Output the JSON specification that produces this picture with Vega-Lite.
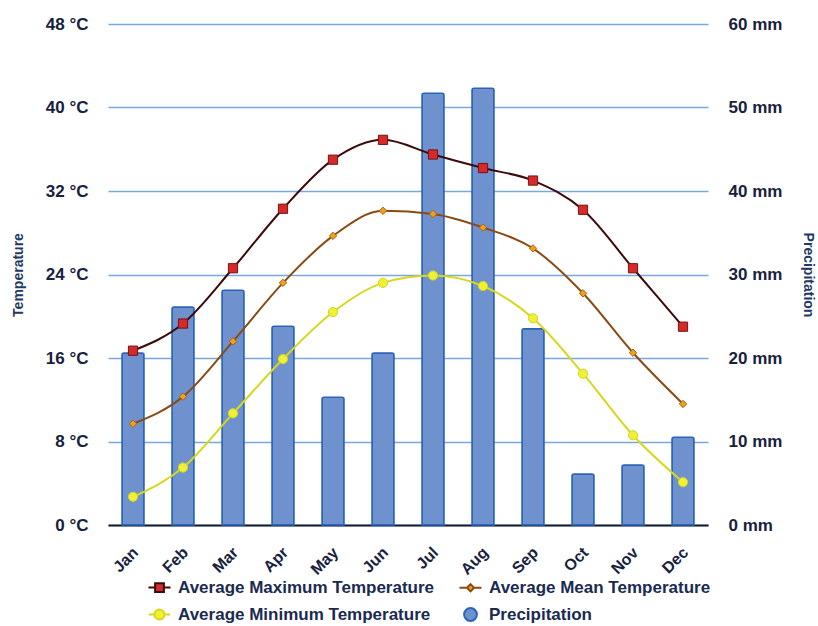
{
  "$schema": "https://vega.github.io/schema/vega-lite/v6.json",
  "width": 600,
  "height": 501,
  "autosize": {"type": "none"},
  "padding": {"left": 108, "top": 24, "right": 110, "bottom": 101},
  "background": "white",
  "config": {
    "view": {"stroke": null},
    "font": "Liberation Sans",
    "axis": {"labelFont": "Liberation Sans", "titleFont": "Liberation Sans"},
    "legend": {
      "title": null, "orient": "none", "legendX": 43, "legendY": 555, "columns": 2, "direction": "horizontal",
      "columnPadding": 20, "rowPadding": 8, "labelFontSize": 17, "labelFontWeight": "bold",
      "labelColor": "#1a2a50", "labelLimit": 400, "labelOffset": 10, "symbolSize": 64,
      "symbolStrokeWidth": 2, "symbolOpacity": 1
    }
  },
  "datasets": {
    "temps": [
      {"month": "Jan", "series": "Average Maximum Temperature", "temp": 16.7},
      {"month": "Feb", "series": "Average Maximum Temperature", "temp": 19.3},
      {"month": "Mar", "series": "Average Maximum Temperature", "temp": 24.6},
      {"month": "Apr", "series": "Average Maximum Temperature", "temp": 30.3},
      {"month": "May", "series": "Average Maximum Temperature", "temp": 35.0},
      {"month": "Jun", "series": "Average Maximum Temperature", "temp": 36.9},
      {"month": "Jul", "series": "Average Maximum Temperature", "temp": 35.5},
      {"month": "Aug", "series": "Average Maximum Temperature", "temp": 34.2},
      {"month": "Sep", "series": "Average Maximum Temperature", "temp": 33.0},
      {"month": "Oct", "series": "Average Maximum Temperature", "temp": 30.2},
      {"month": "Nov", "series": "Average Maximum Temperature", "temp": 24.6},
      {"month": "Dec", "series": "Average Maximum Temperature", "temp": 19.0},
      {"month": "Jan", "series": "Average Mean Temperature", "temp": 9.7},
      {"month": "Feb", "series": "Average Mean Temperature", "temp": 12.3},
      {"month": "Mar", "series": "Average Mean Temperature", "temp": 17.6},
      {"month": "Apr", "series": "Average Mean Temperature", "temp": 23.2},
      {"month": "May", "series": "Average Mean Temperature", "temp": 27.7},
      {"month": "Jun", "series": "Average Mean Temperature", "temp": 30.1},
      {"month": "Jul", "series": "Average Mean Temperature", "temp": 29.8},
      {"month": "Aug", "series": "Average Mean Temperature", "temp": 28.5},
      {"month": "Sep", "series": "Average Mean Temperature", "temp": 26.5},
      {"month": "Oct", "series": "Average Mean Temperature", "temp": 22.2},
      {"month": "Nov", "series": "Average Mean Temperature", "temp": 16.5},
      {"month": "Dec", "series": "Average Mean Temperature", "temp": 11.6},
      {"month": "Jan", "series": "Average Minimum Temperature", "temp": 2.7},
      {"month": "Feb", "series": "Average Minimum Temperature", "temp": 5.5},
      {"month": "Mar", "series": "Average Minimum Temperature", "temp": 10.7},
      {"month": "Apr", "series": "Average Minimum Temperature", "temp": 15.9},
      {"month": "May", "series": "Average Minimum Temperature", "temp": 20.4},
      {"month": "Jun", "series": "Average Minimum Temperature", "temp": 23.2},
      {"month": "Jul", "series": "Average Minimum Temperature", "temp": 23.9},
      {"month": "Aug", "series": "Average Minimum Temperature", "temp": 22.9},
      {"month": "Sep", "series": "Average Minimum Temperature", "temp": 19.8},
      {"month": "Oct", "series": "Average Minimum Temperature", "temp": 14.5},
      {"month": "Nov", "series": "Average Minimum Temperature", "temp": 8.6},
      {"month": "Dec", "series": "Average Minimum Temperature", "temp": 4.1}
    ],
    "precip": [
      {"month": "Jan", "series": "Precipitation", "precip": 20.6},
      {"month": "Feb", "series": "Precipitation", "precip": 26.1},
      {"month": "Mar", "series": "Precipitation", "precip": 28.1},
      {"month": "Apr", "series": "Precipitation", "precip": 23.8},
      {"month": "May", "series": "Precipitation", "precip": 15.3},
      {"month": "Jun", "series": "Precipitation", "precip": 20.6},
      {"month": "Jul", "series": "Precipitation", "precip": 51.7},
      {"month": "Aug", "series": "Precipitation", "precip": 52.3},
      {"month": "Sep", "series": "Precipitation", "precip": 23.5},
      {"month": "Oct", "series": "Precipitation", "precip": 6.1},
      {"month": "Nov", "series": "Precipitation", "precip": 7.2},
      {"month": "Dec", "series": "Precipitation", "precip": 10.5}
    ]
  },
  "layer": [
    {
      "data": {"name": "precip"},
      "mark": {"type": "bar", "stroke": "#2a64b8", "strokeWidth": 1.5, "opacity": 1, "cornerRadiusTopLeft": 2, "cornerRadiusTopRight": 2},
      "encoding": {
        "x": {
          "field": "month", "type": "ordinal",
          "scale": {"domain": ["Jan","Feb","Mar","Apr","May","Jun","Jul","Aug","Sep","Oct","Nov","Dec"], "paddingInner": 0.56, "paddingOuter": 0.28},
          "axis": {
            "title": null, "ticks": false, "domainColor": "#141c30", "domainWidth": 2,
            "labelAngle": -45, "labelFontSize": 16, "labelFontWeight": "bold", "labelColor": "#18213d",
            "labelPadding": 19, "labelOffset": -3, "grid": false
          }
        },
        "y": {
          "field": "precip", "type": "quantitative",
          "scale": {"domain": [0, 60], "nice": false},
          "axis": {
            "orient": "right", "title": "Precipitation", "values": [0,10,20,30,40,50,60],
            "labelExpr": "datum.value + ' mm'", "grid": false, "domain": false, "ticks": false,
            "labelFontSize": 17, "labelFontWeight": "bold", "labelColor": "#18213d", "labelPadding": 20,
            "titleFontSize": 14, "titleFontWeight": "bold", "titleColor": "#1f3864", "titlePadding": 19
          }
        },
        "color": {
          "field": "series", "type": "nominal",
          "scale": {
            "domain": ["Average Maximum Temperature", "Average Mean Temperature", "Average Minimum Temperature", "Precipitation"],
            "range": ["#d42a2a", "#f0a020", "#f2f030", "#6f92cf"]
          }
        }
      }
    },
    {
      "data": {"name": "temps"},
      "layer": [
        {
          "mark": {"type": "line", "interpolate": "monotone", "strokeWidth": 2, "opacity": 1},
          "encoding": {
            "x": {"field": "month", "type": "ordinal"},
            "y": {
              "field": "temp", "type": "quantitative",
              "scale": {"domain": [0, 48], "nice": false},
              "axis": {
                "orient": "left", "title": "Temperature", "values": [0,8,16,24,32,40,48],
                "labelExpr": "datum.value + ' °C'", "grid": true, "gridColor": "#7aa8dc", "gridWidth": 1.5,
                "domain": false, "ticks": false,
                "labelFontSize": 17, "labelFontWeight": "bold", "labelColor": "#18213d", "labelPadding": 20,
                "titleFontSize": 14, "titleFontWeight": "bold", "titleColor": "#1f3864", "titlePadding": 20
              }
            },
            "stroke": {
              "field": "series", "type": "nominal",
              "scale": {
                "domain": ["Average Maximum Temperature", "Average Mean Temperature", "Average Minimum Temperature", "Precipitation"],
                "range": ["#3c0a0a", "#8a4b12", "#d6d81c", "#2a64b8"]
              }
            }
          }
        },
        {
          "transform": [{"filter": "datum.series === 'Average Maximum Temperature'"}],
          "mark": {"type": "point", "shape": "square", "size": 85, "filled": true, "fill": "#d42a2a", "stroke": "#7a1010", "strokeWidth": 1, "opacity": 1},
          "encoding": {
            "x": {"field": "month", "type": "ordinal"},
            "y": {"field": "temp", "type": "quantitative"}
          }
        },
        {
          "transform": [{"filter": "datum.series === 'Average Mean Temperature'"}],
          "mark": {"type": "point", "shape": "diamond", "size": 55, "filled": true, "fill": "#f0a020", "stroke": "#a86410", "strokeWidth": 1, "opacity": 1},
          "encoding": {
            "x": {"field": "month", "type": "ordinal"},
            "y": {"field": "temp", "type": "quantitative"}
          }
        },
        {
          "transform": [{"filter": "datum.series === 'Average Minimum Temperature'"}],
          "mark": {"type": "point", "shape": "circle", "size": 85, "filled": true, "fill": "#f2f030", "stroke": "#c8d830", "strokeWidth": 1, "opacity": 1},
          "encoding": {
            "x": {"field": "month", "type": "ordinal"},
            "y": {"field": "temp", "type": "quantitative"}
          }
        },
        {
          "transform": [{"filter": "false"}],
          "mark": {"type": "point", "filled": true, "opacity": 1},
          "encoding": {
            "x": {"field": "month", "type": "ordinal"},
            "y": {"field": "temp", "type": "quantitative"},
            "color": {
              "field": "series", "type": "nominal",
              "scale": {
                "domain": ["Average Maximum Temperature", "Average Mean Temperature", "Average Minimum Temperature", "Precipitation"],
                "range": ["#d42a2a", "#f0a020", "#f2f030", "#6f92cf"]
              }
            },
            "stroke": {
              "field": "series", "type": "nominal",
              "scale": {
                "domain": ["Average Maximum Temperature", "Average Mean Temperature", "Average Minimum Temperature", "Precipitation"],
                "range": ["#3c0a0a", "#8a4b12", "#d6d81c", "#2a64b8"]
              }
            },
            "shape": {
              "field": "series", "type": "nominal",
              "scale": {
                "domain": ["Average Maximum Temperature", "Average Mean Temperature", "Average Minimum Temperature", "Precipitation"],
                "range": [
                  "M-2.75,0H-1.1M1.1,0H2.75M-1.1,-1.1H1.1V1.1H-1.1Z",
                  "M-2.75,0H-0.9M0.9,0H2.75M0,-0.9L0.9,0L0,0.9L-0.9,0Z",
                  "M-2.65,0H-1.25M1.25,0H2.65M1.25,0A1.25,1.25,0,1,1,-1.25,0A1.25,1.25,0,1,1,1.25,0Z",
                  "M1.6,0A1.6,1.6,0,1,1,-1.6,0A1.6,1.6,0,1,1,1.6,0Z"
                ]
              }
            }
          }
        }
      ]
    }
  ],
  "resolve": {"scale": {"y": "independent"}}
}
